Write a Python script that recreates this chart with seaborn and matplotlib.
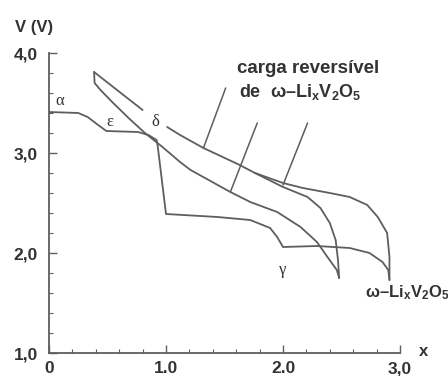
import matplotlib
matplotlib.use("Agg")
import matplotlib.pyplot as plt
import seaborn as sns
import pandas as pd
from matplotlib.ticker import MultipleLocator, FixedLocator, FixedFormatter

# ---------------- data ----------------
# first discharge alpha -> epsilon -> delta -> gamma -> omega
d1_x = [0.00, 0.25, 0.33, 0.42, 0.49, 0.76, 0.85, 0.92, 0.93, 1.00, 1.44,
        1.72, 1.89, 1.95, 2.00, 2.29, 2.57, 2.74, 2.85, 2.90, 2.91]
d1_y = [3.41, 3.40, 3.36, 3.28, 3.22, 3.21, 3.18, 3.13, 3.06, 2.39, 2.36,
        2.33, 2.25, 2.16, 2.06, 2.07, 2.05, 2.00, 1.91, 1.83, 1.73]
# reversible charge from x = 2.91 back towards x = 1.0 (broken at the delta label)
c3a_x = [2.91, 2.91, 2.89, 2.81, 2.72, 2.57, 2.40, 2.17, 2.00, 1.76, 1.63, 1.32, 1.12, 1.01]
c3a_y = [1.73, 1.96, 2.20, 2.36, 2.48, 2.56, 2.60, 2.65, 2.70, 2.80, 2.88, 3.05, 3.18, 3.26]
# its continuation after the gap, up to the start point x = 0.385
c3b_x = [0.80, 0.385]
c3b_y = [3.43, 3.81]
# discharge from x = 0.385 to x = 2.48
d2_x = [0.385, 0.39, 0.44, 0.54, 0.68, 0.82, 0.97, 1.12, 1.21, 1.55, 1.72, 1.95,
        2.15, 2.29, 2.38, 2.46, 2.48]
d2_y = [3.81, 3.70, 3.63, 3.51, 3.35, 3.20, 3.06, 2.91, 2.83, 2.61, 2.51, 2.41,
        2.26, 2.11, 1.96, 1.83, 1.75]
# reversible charge from x = 2.48, joining the upper charge curve
c2_x = [2.48, 2.47, 2.45, 2.40, 2.32, 2.21, 2.00, 1.76]
c2_y = [1.75, 1.93, 2.13, 2.30, 2.45, 2.56, 2.66, 2.80]

x_ticks = [0, 1, 2, 3]
x_tick_labels = ["0", "1.0", "2.0", "3,0"]
y_ticks = [1, 2, 3, 4]
y_tick_labels = ["1,0", "2,0", "3,0", "4,0"]

phase_labels = ["α", "ε", "δ", "γ"]
phase_x = [0.095, 0.52, 0.905, 2.00]
phase_y = [3.52, 3.31, 3.31, 1.83]

# pointer lines (start near the label -> end on the curve)
ptr_x0 = [1.51, 1.78, 2.21]
ptr_y0 = [3.65, 3.30, 3.30]
ptr_x1 = [1.32, 1.55, 2.00]
ptr_y1 = [3.05, 2.61, 2.68]

# ---------------- table ----------------
frames = []
for name, xs, ys in [("d1", d1_x, d1_y), ("c3a", c3a_x, c3a_y), ("c3b", c3b_x, c3b_y),
                     ("d2", d2_x, d2_y), ("c2", c2_x, c2_y)]:
    frames.append(pd.DataFrame({"x": xs, "V": ys, "curve": name}))
df = pd.concat(frames, ignore_index=True)

# ---------------- style ----------------
sns.set_style("ticks")
plt.rcParams["font.family"] = ["Liberation Sans", "DejaVu Sans"]
plt.rcParams["mathtext.fontset"] = "custom"
plt.rcParams["mathtext.rm"] = "Liberation Sans:bold"
plt.rcParams["mathtext.it"] = "Liberation Sans:bold"
plt.rcParams["mathtext.bf"] = "Liberation Sans:bold"
plt.rcParams["mathtext.default"] = "rm"

line_col = "#5e5e5e"
text_col = "#333333"

fig = plt.figure(figsize=(4.48, 3.76), dpi=100)
ax = fig.add_axes([49 / 448, 1 - 353 / 376, (400 - 49) / 448, (353 - 53) / 376])

for name in ["d1", "c3a", "c3b", "d2", "c2"]:
    sub = df[df["curve"] == name]
    sns.lineplot(data=sub, x="x", y="V", sort=False, estimator=None,
                 color=line_col, linewidth=1.3, ax=ax, legend=False)

for xa, ya, xb, yb in zip(ptr_x0, ptr_y0, ptr_x1, ptr_y1):
    ax.plot([xa, xb], [ya, yb], color=line_col, linewidth=1.1)

ax.set_xlim(0, 3)
ax.set_ylim(1, 4)
ax.set_xlabel("")
ax.set_ylabel("")
ax.xaxis.set_major_locator(FixedLocator(x_ticks))
ax.xaxis.set_major_formatter(FixedFormatter(x_tick_labels))
ax.yaxis.set_major_locator(FixedLocator(y_ticks))
ax.yaxis.set_major_formatter(FixedFormatter(y_tick_labels))
ax.xaxis.set_minor_locator(MultipleLocator(0.2))
ax.yaxis.set_minor_locator(MultipleLocator(0.2))
ax.tick_params(which="major", direction="in", length=6, width=1.0,
               color=line_col, labelsize=12.5, labelcolor=text_col)
ax.tick_params(axis="x", which="major", pad=6)
ax.tick_params(axis="y", which="major", pad=8)
ax.tick_params(which="minor", direction="in", length=3, width=0.8,
               color=line_col)
for lab in ax.get_xticklabels() + ax.get_yticklabels():
    lab.set_fontweight("bold")
for s in ["top", "right"]:
    ax.spines[s].set_visible(False)
for s in ["left", "bottom"]:
    ax.spines[s].set_color(line_col)
    ax.spines[s].set_linewidth(1.3)

tkw = dict(color=text_col, fontweight="bold", clip_on=False)
ax.text(-0.29, 4.21, "V (V)", ha="left", va="baseline", fontsize=12, **tkw)
ax.text(3.20, 1.02, "x", ha="center", va="center", fontsize=12, **tkw)
ax.text(1.607, 3.80, "carga reversível", ha="left", va="baseline", fontsize=13.5, **tkw)
ax.text(1.624, 3.56, "de  ω–Li$_x$V$_2$O$_5$", ha="left", va="baseline", fontsize=13, **tkw)
ax.text(2.70, 1.56, "ω–Li$_x$V$_2$O$_5$", ha="left", va="baseline", fontsize=12, **tkw)

for lab, px, py in zip(phase_labels, phase_x, phase_y):
    ax.text(px, py, lab, ha="center", va="center", fontsize=12,
            family=["Liberation Serif", "DejaVu Serif"], color=text_col)

fig.savefig("out.png", dpi=100, facecolor="white")
